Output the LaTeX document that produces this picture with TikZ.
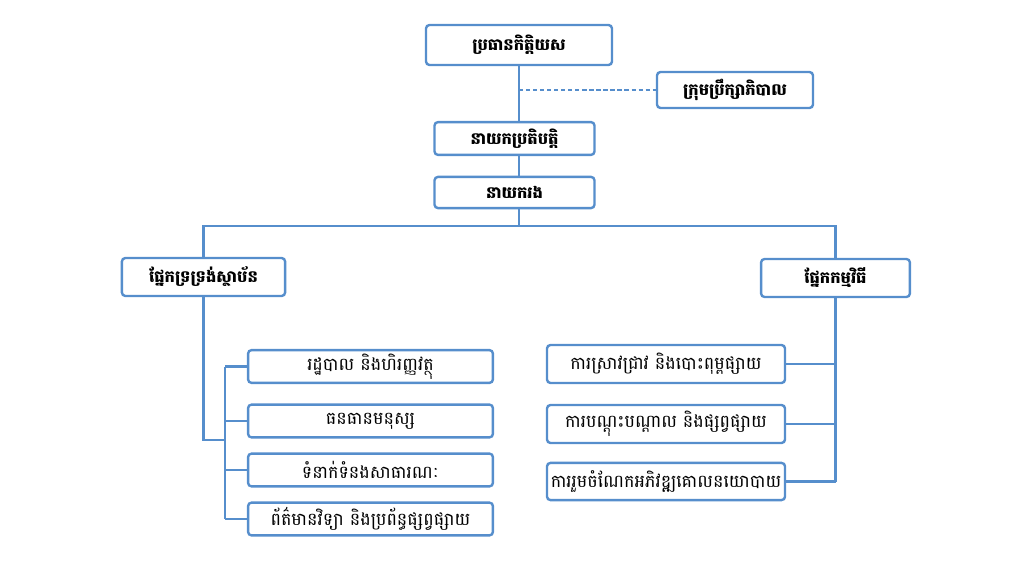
\documentclass[tikz,border=0pt]{standalone}
\usepackage{fontspec}
\newfontfamily\khmer[Script=Khmer]{Battambang}
\definecolor{boxblue}{RGB}{86,142,204}

\begin{document}
\begin{tikzpicture}
  [x=0.025cm, y=-0.025cm,
   every node/.style={draw=boxblue, line width=1.7pt, rounded corners=2.5pt, fill=white,
                      inner sep=1pt, font=\khmer\fontsize{12.5}{14}\selectfont},
   head/.style={font=\khmer\bfseries\fontsize{11.6}{14}\selectfont},
   link/.style={draw=boxblue, line width=1.7pt}]
  \useasboundingbox (0,0) rectangle (1024,576);

  % top of the chart
  \node[head, minimum width=4.65cm, minimum height=1.0cm] (chair) at (519,45) {ប្រធានកិត្តិយស};
  \node[head, minimum width=3.9cm, minimum height=0.9cm] (board) at (735,90) {ក្រុមប្រឹក្សាភិបាល};
  \node[head, minimum width=4.0cm, minimum height=0.82cm] (exec) at (514.5,138.5) {នាយកប្រតិបត្តិ};
  \node[head, minimum width=4.0cm, minimum height=0.78cm] (deputy) at (514.5,192.5) {នាយករង};

  % departments
  \node[head, minimum width=4.08cm, minimum height=0.95cm] (support) at (203.5,277) {ផ្នែកទ្រទ្រង់ស្ថាប័ន};
  \node[head, minimum width=3.72cm, minimum height=0.95cm] (program) at (835.5,278) {ផ្នែកកម្មវិធី};

  % units
  \node[minimum width=6.12cm, minimum height=0.82cm] (sup1) at (370.5,366.5) {រដ្ឋបាល និងហិរញ្ញវត្ថុ};
  \node[minimum width=6.12cm, minimum height=0.82cm] (sup2) at (370.5,421) {ធនធានមនុស្ស};
  \node[minimum width=6.12cm, minimum height=0.82cm] (sup3) at (370.5,470) {ទំនាក់ទំនងសាធារណៈ};
  \node[minimum width=6.12cm, minimum height=0.82cm] (sup4) at (370.5,519) {ព័ត៌មានវិទ្យា និងប្រព័ន្ធផ្សព្វផ្សាយ};
  \node[minimum width=5.95cm, minimum height=0.95cm] (prog1) at (666,364) {ការស្រាវជ្រាវ និងបោះពុម្ពផ្សាយ};
  \node[minimum width=5.95cm, minimum height=0.95cm] (prog2) at (666,424) {ការបណ្តុះបណ្តាល និងផ្សព្វផ្សាយ};
  \node[minimum width=5.95cm, minimum height=0.93cm] (prog3) at (666,481.5) {ការរួមចំណែកអភិវឌ្ឍគោលនយោបាយ};

  \coordinate (split) at (chair.south |- 0,226);
  \coordinate (lbend) at (225,440);

  % connectors
  \draw[link] (chair.south) -- (chair.south |- exec.north);
  \draw[link] (chair.south |- exec.south) -- (chair.south |- deputy.north);
  \draw[link] (chair.south |- deputy.south) -- (split);
  \draw[link] (support.north) |- (split) -| (program.north);
  \draw[boxblue, line width=0.8pt, dash pattern=on 3pt off 2pt] (chair.south |- board.west) -- (board.west);
  \draw[link] (support.south) |- (lbend);
  \draw[link] (lbend |- sup1.west) -- (lbend |- sup4.west);
  \foreach \i in {1,...,4}
    \draw[link] (lbend |- sup\i.west) -- (sup\i.west);
  \draw[link] (program.south) -- (program.south |- prog3.east);
  \foreach \i in {1,2,3}
    \draw[link] (program.south |- prog\i.east) -- (prog\i.east);
\end{tikzpicture}
\end{document}
